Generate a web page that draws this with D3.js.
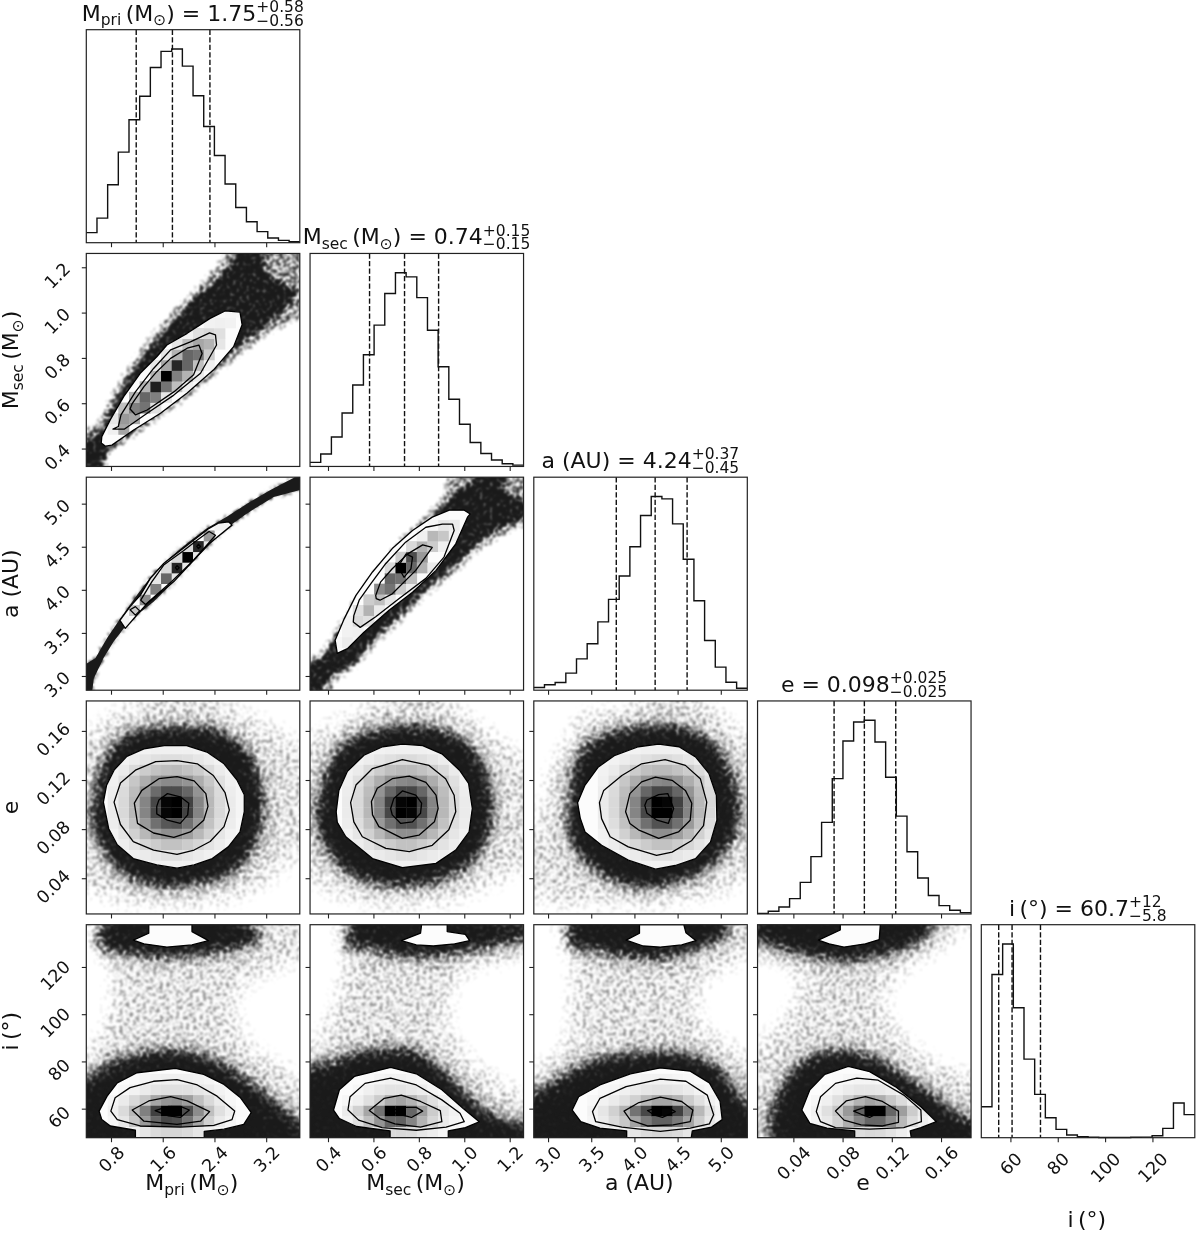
<!DOCTYPE html>
<html>
<head>
<meta charset="utf-8">
<script src="https://cdn.jsdelivr.net/npm/d3@7"></script>
<style>
    html, body { margin: 0; padding: 0; background: #fff; }
    svg { display: block; filter: blur(0.35px); }
    text { font-family: "DejaVu Sans", sans-serif; fill: #111; }
</style>
</head>
<body>
<div id="chart"></div>
<script>
//PARAMETER RANGES, TICKS AND QUANTILES
const extents = [[0.418, 3.72], [0.321, 1.261], [2.835, 5.307], [0.0109, 0.1844], [47.7, 137.9]];
const tickValues = [
    [0.8, 1.6, 2.4, 3.2],
    [0.4, 0.6, 0.8, 1.0, 1.2],
    [3.0, 3.5, 4.0, 4.5, 5.0],
    [0.04, 0.08, 0.12, 0.16],
    [60, 80, 100, 120],
];
const tickLabels = [
    ["0.8", "1.6", "2.4", "3.2"],
    ["0.4", "0.6", "0.8", "1.0", "1.2"],
    ["3.0", "3.5", "4.0", "4.5", "5.0"],
    ["0.04", "0.08", "0.12", "0.16"],
    ["60", "80", "100", "120"],
];
const quantiles = [
    [1.19, 1.75, 2.33],
    [0.583, 0.737, 0.887],
    [3.79, 4.24, 4.61],
    [0.0731, 0.0977, 0.1232],
    [55.05, 60.7, 72.7],
];

//AXIS LABELS: [text, isSubscript]
const axisNames = [
    [["M", 0], ["pri", 1], ["\u2009(M", 0], ["\u2299", 1], [")", 0]],
    [["M", 0], ["sec", 1], ["\u2009(M", 0], ["\u2299", 1], [")", 0]],
    [["a (AU)", 0]],
    [["e", 0]],
    [["i\u2009(\u00b0)", 0]],
];
const titleValues = ["1.75", "0.74", "4.24", "0.098", "60.7"];
const titlePlus = ["+0.58", "+0.15", "+0.37", "+0.025", "+12"];
const titleMinus = ["\u22120.56", "\u22120.15", "\u22120.45", "\u22120.025", "\u22125.8"];

//1D HISTOGRAMS, PERCENT OF THE PEAK BIN
const histPri = [5.2, 12.7, 29.9, 46.8, 63.5, 75.6, 90.5, 98.8, 100, 91.2, 75.9, 60, 45, 30.3, 18.2, 10.8, 5.7, 2.4, 1.2, 0.5];
const histSec = [2.1, 6.4, 15.2, 27.6, 42.1, 57.7, 73, 89.3, 100, 97.9, 87.2, 70.3, 51.5, 34.7, 21.8, 12.4, 6.7, 3.3, 1.4, 0.7];
const histA = [1.4, 2.8, 4, 8.8, 16.2, 24, 35.3, 46.9, 59, 74.1, 90.2, 100, 98.8, 85.9, 67.6, 46.2, 25.7, 11.9, 4.1, 1];
const histE = [0.3, 1.4, 3.6, 7.9, 16.3, 29.6, 47.3, 69.9, 89.3, 99.1, 100, 88.8, 70.6, 50.5, 32.1, 18.6, 9.5, 4.3, 1.9, 0.7];
const histI = [16, 84.3, 100, 67.1, 40.6, 22.4, 10.3, 4.3, 1.4, 0.5, 0.2, 0.1, 0.1, 0.1, 0.2, 0.3, 1, 4.8, 17.9, 11.9];

//2D PANELS: everything below is [binX, binY] in the 20x20 histogram grid
//cell rows are [binY, firstBinX, darkness...] with darkness in percent

// M_sec vs M_pri
const denseSecPri = [[[0,0],[0,.8],[1.3,3.4],[2.25,5.6],[3.65,8],[5.4,10.6],[7.25,12.65],[9.1,14.85],[11,16.7],[12.6,18.1],[13.8,19.4],[15.1,20],[16.2,20],[16.9,18.4],[18.5,17.2],[19.75,16.9],[19.6,15.6],[17.25,13.4],[14.75,11.6],[12.25,9.5],[9.45,7],[6.6,4.85],[4.1,3],[2.1,1.55],[.85,0]]];
const sparseSecPri = [[0,1.5],[1.2,4.5],[3,8],[5.2,11.4],[7,13.5],[9,15.6],[11,17.6],[12.6,19.4],[13.3,20],[20,20],[20,15],[17.5,12.6],[15,10.8],[12.5,8.8],[9.5,6.3],[6.6,4.2],[4,2.4],[2,1],[1.2,0],[0,0]];
const outerSecPri = [[[1.4,2.2],[1.8,1.9],[2.4,2],[4.4,3.4],[6.95,5],[9.45,6.9],[11.9,9.05],[13.8,11.25],[14.6,13.3],[14.4,14.5],[13,14.6],[11.6,13.9],[9.45,12.5],[7.55,11.4],[6.6,10.3],[5.05,8.75],[3.5,6.55],[2.25,4.4],[1.45,2.8]]];
const linesSecPri = [
    [[2.5,3.5],[3.55,3.5],[5.7,5],[8.2,6.7],[10.7,8.75],[12.2,11.4],[12.1,12.35],[11.55,12.55],[9.75,11.7],[7.9,10.95],[6.3,9.2],[4.6,7],[3.25,4.85],[3,3.75]],
    [[4.1,5.4],[4.6,4.85],[5.7,5.3],[8.2,7],[10.05,8.6],[10.85,10.6],[10.55,11.4],[9.45,11.1],[7.9,10.15],[6.6,8.9],[5.4,7.5],[4.3,5.9]],
];
const cellsSecPri = [[3,2,6,35],[4,2,10,40,35],[5,3,25,50,55,12],[6,4,30,60,50,10],[7,5,30,88,55,25,6],[8,6,30,100,50,30,8],[9,6,10,35,85,60,25,6],[10,7,10,30,60,55,20],[11,8,10,25,35,30,10],[12,9,5,12,15,12],[13,11,5,6,5],[14,12,3,4,3]];

// a vs M_pri
const denseAPri = [[[0,.65],[.85,3],[1.95,4.9],[3.2,6.75],[4.75,8.95],[6.15,10.8],[7.55,12.2],[9.45,13.8],[11.3,15.2],[13.2,16.3],[15.05,17.5],[17.25,18.8],[19.45,19.95],[20,20],[20,19.6],[17.55,18.15],[15.05,16.6],[13.5,15.5],[11.95,14.1],[10.05,12.2],[8.2,10.2],[6.3,8.3],[4.75,7.05],[3.5,5.8],[2.55,4.55],[1.6,3],[.7,1.1],[.2,0],[0,0]]];
const sparseAPri = [];
const outerAPri = [[[3.15,6.55],[3.65,5.8],[4.6,6.9],[5.7,8.15],[8.2,10.2],[10.05,12.2],[11.5,13.75],[13.65,15.5],[13.35,15.8],[12.4,15.7],[11.5,15.2],[9.45,13.6],[7.25,11.9],[6,10.5],[5.05,8.9],[4.1,7.85]]];
const linesAPri = [
    [[5.1,8.45],[5.55,8.05],[8,10.2],[10.05,12.2],[12.1,14.55],[11.5,14.9],[10.4,14.1],[9.1,13.1],[7.25,11.75],[6.15,10.2]],
    [[4.1,7.55],[4.6,7.85],[5,7.45],[4.6,7.05]],
    [[8.35,11.5],[8.5,11.7],[8.7,11.5],[8.5,11.3]],
    [[10.35,13.5],[10.5,13.7],[10.7,13.5],[10.5,13.3]],
];
const cellsAPri = [[6,3,5],[7,4,22],[8,5,45],[9,5,8,50],[10,6,10,60,10],[11,7,15,85,10],[12,8,15,100,10],[13,9,15,85,10],[14,11,40],[15,12,5,5]];

// a vs M_sec
const denseASec = [[[0,1.7],[1,3],[2.1,4.55],[3.65,7],[5.55,9.85],[7.1,12],[8.65,13.6],[10.55,15.3],[12.4,17.35],[13.65,18.9],[15.2,19.7],[18,20],[18.35,18.75],[19.6,18],[20,17.35],[18,15.15],[15.85,13.9],[13.35,11.4],[11.15,9.7],[9,7.5],[6.45,5.15],[4.3,2.65],[2.25,1.4],[1.3,.15],[0,0]]];
const sparseASec = [[0,2],[1,3.6],[3.6,7.8],[5.6,10.6],[8.5,14.4],[10.5,16.2],[12.4,18.2],[13.5,20],[20,20],[20,16.5],[18,14.4],[15.8,13],[13.3,10.6],[11,8.9],[9,6.8],[6.4,4.4],[4.3,2],[2.4,.8],[1.3,0],[0,0]];
const outerASec = [[[2.35,4.7],[2.55,3.45],[3.5,3.9],[5.05,5.45],[7.4,7.5],[9.6,9.2],[11.8,11.25],[13.65,13.75],[14.75,16.25],[15,16.55],[14.45,16.9],[13.05,16.9],[11.45,16.25],[9.6,15],[7.7,13.3],[5.85,11.1],[4.3,8.9],[3.2,6.7]]];
const linesASec = [
    [[4.05,6.4],[4.7,5.9],[6.15,6.9],[8.35,8.6],[10.85,10.5],[12.55,12.5],[13.5,15],[13.35,15.6],[12.4,15.6],[10.85,15.3],[8.95,13.9],[7.1,11.9],[5.7,10],[4.6,8.45],[4.1,7]],
    [[6.2,8.6],[6.55,8.45],[7.7,9.05],[9.9,11.25],[11.45,13.4],[10.55,13.65],[9.15,12.8],[7.7,11.4],[6.6,10.15],[6.15,8.9]],
    [[8.2,11.7],[8.8,10.6],[9.45,11.4],[9.6,12.5],[9,12.8],[8.5,12]],
];
const cellsASec = [[4,2,3,8,4],[5,3,5,6],[6,3,5,15,12],[7,4,12,30,8],[8,5,20,25,10],[9,6,45,55,20,8],[10,7,60,55,25],[11,7,15,100,60,30,8],[12,8,20,70,40],[13,9,15,30,20,6],[14,10,6,28,22,6],[15,11,4,10,8],[16,12,2]];

// e vs M_pri
const denseEPri = [[[.4,10.2],[1,13],[1.9,15.2],[3.2,16.8],[5.7,17.6],[8.8,17.7],[12,17.6],[14.1,16.5],[15.7,14.9],[16.5,12.4],[16.8,9.9],[16.3,7.1],[15.4,5.2],[13.2,3.3],[10,2.6],[6.9,2.4],[4.1,3.2],[2.25,4.6],[1.15,6.5],[.4,8]]];
const sparseEPri = [[0,11],[0,15],[1.5,19],[4,19.8],[9,20],[14,19.7],[18,18],[20,14],[20,8],[18.5,3.5],[15,1],[9,.3],[3,.5],[0,3]];
const outerEPri = [[[1.6,10.5],[1.9,12.1],[2.6,13.5],[3.8,14.8],[5.4,15.5],[7.3,15.8],[9.4,15.8],[11.3,15.2],[12.9,14.1],[14.1,12.6],[14.8,11.2],[14.8,9.6],[14.4,7.7],[13.3,6.3],[11.8,5.2],[10.1,4.6],[8.5,4.3],[6.6,4.6],[4.4,5.2],[2.9,6.5],[2.1,8]]];
const linesEPri = [
    [[2.6,10.5],[3.2,12.3],[4.6,13.5],[6.5,14.3],[8.5,14.4],[10.4,14.1],[11.9,13],[13,11.4],[13.4,9.75],[12.9,8.2],[11.6,6.8],[10.1,6],[8.5,5.6],[6.3,6],[4.4,6.8],[3.2,8.4]],
    [[4.5,10.4],[5.2,11.6],[6.8,12.7],[8.5,12.9],[10.1,12.5],[11.2,11.3],[11.4,10.1],[11,8.8],[9.75,7.7],[8.2,7.2],[6.3,7.6],[4.8,8.5]],
    [[6.6,10.1],[6.8,10.7],[7.6,11.3],[8.8,11],[9.6,10.4],[9.5,9.3],[8.8,8.5],[7.6,8.8],[6.6,9.4]],
];
const cellsEPri = [
    [15,2,2,3,4,5,6,6,6,6,5,4,3,2,1],
    [14,2,3,5,7,10,12,13,13,12,10,7,5,3,2],
    [13,2,5,8,14,20,24,26,27,24,20,14,8,5,3],
    [12,2,6,12,22,32,42,46,46,42,32,22,12,6,3],
    [11,2,7,14,26,42,58,70,70,60,42,26,14,7,4],
    [10,2,8,15,28,48,72,98,100,74,48,28,15,8,4],
    [9,2,8,15,28,48,72,98,100,74,48,28,15,8,4],
    [8,2,7,13,24,40,56,66,68,56,40,24,13,7,3],
    [7,2,5,10,18,28,38,44,44,38,28,18,10,5,3],
    [6,2,4,7,11,16,20,24,24,20,16,11,7,4,2],
    [5,2,2,4,6,8,10,12,12,10,8,6,4,2,1],
    [4,2,1,2,3,4,5,5,5,5,4,3,2,1,0],
];

// e vs M_sec
const denseESec = [[[.5,10.2],[1.45,13.65],[2.7,15.85],[4.9,17.1],[8.65,17.9],[12.1,17.55],[14.6,16.5],[16.15,14.6],[17.1,11.8],[17.25,9],[16.6,6.45],[14.9,4.3],[12.1,2.9],[8.35,2.4],[4.6,3],[2.4,4.6],[1,6.8],[.4,8.65]]];
const sparseESec = [[0,5],[0,15],[2,18.5],[5,19.7],[10,20],[15,19],[18.5,16.5],[20,13],[20,6],[18,2.5],[13,.5],[6,.2],[1.5,1.5]];
const outerESec = [[[2.45,9.6],[2.7,11.6],[3.5,13.4],[5.05,14.9],[6.8,15.7],[8.65,15.95],[10.55,15.8],[12.4,15],[14,13.5],[14.85,12.25],[15.2,9.9],[14.9,7.7],[13.65,6],[11.8,4.75],[8.65,4.35],[5.85,5.2],[3.35,7.25],[2.55,8.6]]];
const linesESec = [
    [[3.8,10.45],[4.3,12.1],[5.85,13.65],[8.65,14.5],[11.15,13.95],[12.7,12.7],[13.5,11.15],[13.65,9.6],[13,7.9],[11.45,6.45],[9.3,5.85],[7.1,6.15],[4.9,7.25],[4.1,8.65]],
    [[5.75,10.55],[6.3,11.8],[7.7,12.7],[9.3,12.95],[10.85,12.35],[11.8,11.15],[12,9.9],[11.65,8.65],[10.2,7.4],[8.65,7.1],[6.45,8.2],[5.85,9.3]],
    [[7.55,9.9],[7.85,10.85],[8.65,11.55],[9.9,11.15],[10.45,10.4],[10.35,9.45],[9.6,8.65],[8.5,8.5],[7.7,9.3]],
];
const cellsESec = [
    [15,3,2,3,4,5,6,6,6,6,5,4,3,2],
    [14,3,3,5,7,10,12,14,14,12,10,7,5,3],
    [13,3,5,8,14,20,25,27,27,24,20,14,8,5],
    [12,3,6,12,22,32,42,46,48,42,32,22,12,6],
    [11,3,7,14,26,42,60,72,72,60,42,26,14,7],
    [10,3,8,15,28,48,74,98,100,74,48,28,15,8],
    [9,3,8,15,28,48,72,100,98,72,48,28,15,8],
    [8,3,7,13,24,40,56,68,68,56,40,24,13,7],
    [7,3,5,10,18,28,38,44,44,38,28,18,10,5],
    [6,3,4,7,11,16,20,24,24,20,16,11,7,4],
    [5,3,2,4,6,8,10,12,12,10,8,6,4,2],
    [4,3,1,2,3,4,5,5,5,5,4,3,2,1],
];

// e vs a
const denseEA = [[[3.25,10.55],[3.55,14],[4.5,15.85],[6.7,17.1],[9.8,17.7],[12.95,17.9],[15.75,17.1],[17.6,15.5],[18.9,12.7],[19.5,9.9],[18.9,6.8],[17,4.6],[14.2,3],[10.75,2.25],[7.3,2.9],[4.8,4.6],[3.25,6.8],[2.95,8.65]]];
const sparseEA = [[0,3],[.3,10],[1,14],[2.5,15.8],[3.5,19],[8,19.9],[14,20],[19,18],[20,15],[20,5],[18,1.5],[12,.3],[5,.2],[1,.5]];
const outerEA = [[[4.1,10.45],[4.8,12.1],[6.05,13.8],[7.6,14.9],[9.8,15.7],[11.7,15.95],[13.6,15.7],[15.15,14.75],[16.4,13.2],[17.1,11.15],[17.15,8.8],[16.55,6.75],[15.15,5.2],[13.25,4.55],[11.4,4.2],[8.85,5.05],[6.35,6.45],[4.8,7.7],[4.35,9]]];
const linesEA = [
    [[6.15,10.45],[6.55,11.6],[8.25,13],[10.1,14.1],[12.3,14.5],[14.2,13.95],[15.6,12.7],[16.2,10.5],[15.9,8.3],[14.8,6.9],[12.95,5.8],[11.5,5.5],[8.85,6.3],[7.15,7.25],[6.35,8.95]],
    [[8.6,9.6],[9,11.3],[10.1,12.4],[11.4,12.85],[12.95,12.55],[14.2,11.6],[14.8,10.4],[14.65,8.8],[13.55,7.7],[11.7,7.1],[9.8,7.9],[9,8.5]],
    [[10.4,10.2],[10.6,10.7],[11.7,11.2],[12.55,11.3],[13.1,9.9],[12.6,8.5],[11.55,8.8],[10.6,9.45]],
];
const cellsEA = [
    [15,6,2,3,4,5,6,6,6,6,5,4,3,2],
    [14,6,3,5,7,10,12,14,14,12,10,7,5,3],
    [13,6,5,8,14,20,25,27,27,24,20,14,8,5],
    [12,6,6,12,22,32,42,46,48,42,32,22,12,6],
    [11,6,7,14,26,42,60,72,72,60,42,26,14,7],
    [10,6,8,15,28,48,74,100,98,74,48,28,15,8],
    [9,6,8,15,28,48,72,100,100,72,48,28,15,8],
    [8,6,7,13,24,40,56,68,68,56,40,24,13,7],
    [7,6,5,10,18,28,38,44,44,38,28,18,10,5],
    [6,6,4,7,11,16,20,24,24,20,16,11,7,4],
    [5,6,2,4,6,8,10,12,12,10,8,6,4,2],
    [4,6,1,2,3,4,5,5,5,5,4,3,2,1],
];

// i vs M_pri
const denseIPri = [
    [[.7,19.7],[5.7,20],[11.9,20],[16.3,19.5],[17.25,18.9],[15.7,17.95],[13.2,17.5],[10.05,17],[6.3,16.85],[2.55,17.35],[1.65,17],[1.3,17.65],[.85,18.3]],
    [[0,0],[0,3.6],[1,6.4],[2.55,7.35],[5.05,8.1],[8.5,8.45],[11.3,7.8],[13.5,6.7],[15.7,5.15],[17.9,3.3],[19.75,1.7],[20,.8],[19.4,0]],
];
const sparseIPri = [[0,0],[0,5],[1,10],[2,13],[1.5,16],[1,19],[3,20],[20,20],[20,17],[17,15],[14,13],[15,10],[17,8],[20,5],[20,0]];
const outerIPri = [
    [[1.2,2.5],[1.95,3.9],[2.9,5.15],[4.75,6.1],[8.35,6.5],[11,5.95],[12.9,5],[14.45,3.75],[15.45,2.35],[14.75,1.25],[12.9,.8],[11.05,.6],[11.05,0],[4.6,0],[4.6,.7],[2.25,1.1],[1.45,1.7]],
    [[4.4,18.55],[5.85,19.2],[5.85,20],[9.9,20],[9.9,19.35],[11.45,18.5],[9.9,18.1],[7.55,17.9],[5.4,18.2]],
];
const linesIPri = [
    [[2.3,2.5],[2.7,3.75],[4.1,4.7],[6.3,5.3],[8.5,5.45],[10.4,4.95],[12.25,3.9],[13.9,2.5],[13.65,1.7],[11.95,1.15],[8.8,1],[5.05,1.1],[2.9,1.7]],
    [[4.3,2.6],[5.85,3.45],[7.9,3.85],[9.45,3.45],[11.55,2.45],[10.7,1.55],[8.5,1.25],[5.4,1.55]],
    [[6.45,2.55],[7.7,2.95],[8.8,2.95],[9.65,2.6],[8.8,1.9],[7.7,2.05]],
];
const cellsIPri = [[5,4,2,4,5,6,6,6,5,4,2],[4,3,3,5,8,11,12,12,12,10,8,5,3],[3,2,4,8,15,22,35,42,44,38,25,15,8,3],[2,2,6,14,28,50,75,100,100,70,45,25,12,6,2],[1,2,4,10,22,40,60,72,70,55,35,18,8,4],[0,3,3,6,10,14,16,16,14,10,6,3]];

// i vs M_sec
const denseISec = [
    [[3.55,19.85],[4.75,20],[20,19.85],[20,18.6],[18.35,18.1],[15.55,17.5],[11.55,16.85],[8.35,16.85],[5.55,17.8],[3.55,17.35],[2.95,16.85],[3.15,18.6]],
    [[0,0],[0,5.4],[1.15,7.3],[2.35,7.15],[3.95,8.1],[7.55,8.55],[9.95,8.4],[11.55,7.3],[13.55,5.4],[15.95,2.9],[18.35,1.65],[20,1],[20,0]],
];
const sparseISec = [[0,0],[0,4],[1.2,11],[2.3,14],[2.8,17],[3,20],[20,20],[20,17],[15,15.5],[13.5,13.5],[13.5,10],[16,7],[20,3],[20,0]];
const outerISec = [
    [[2.2,2.6],[2.75,4.5],[4.15,5.75],[7.55,6.6],[9.95,6],[12.35,4.5],[14.35,2.75],[15.85,1.5],[14.55,.95],[12.95,.65],[12.95,0],[7.5,0],[7.5,.65],[4.35,1.05],[2.75,1.8]],
    [[8.55,18.5],[10.35,19.2],[10.45,20],[12.85,20],[12.85,19.35],[14.55,19.1],[14.95,18.5],[13.55,18.2],[11.55,18],[9.95,18.1]],
];
const linesISec = [
    [[3.55,2.6],[3.75,3.85],[5.15,5.1],[7.55,5.6],[9.95,4.95],[12.35,3.55],[14.05,2.3],[14.45,1.5],[12.75,1],[9.95,.7],[6.75,.95],[4.55,1.65]],
    [[5.55,2.55],[6.95,3.7],[8.55,4],[10.35,3.4],[12.2,2.55],[12.35,1.5],[10.35,1],[7.95,1.3],[6.55,1.8]],
    [[7.55,2.5],[8.55,2.85],[9.95,2.85],[10.55,2.5],[9.5,1.9],[8.35,2.2]],
];
const cellsISec = [[5,5,2,4,5,5,4,3],[4,4,3,6,9,11,11,9,7,4,2],[3,3,3,6,12,20,32,36,30,20,12,6,3],[2,3,8,18,35,55,100,100,60,38,20,10,5,2],[1,3,5,12,25,42,60,62,48,30,16,8,4,2],[0,4,3,6,10,14,15,14,10,7,4,2]];

// i vs a
const denseIA = [
    [[2.6,19.4],[3,19.85],[4.6,20],[17.05,20],[18.65,19.5],[18.25,18.6],[15.45,17.65],[11.45,16.55],[7.45,17],[5,17.8],[4.2,16.7],[3.4,17.65]],
    [[0,0],[0,2.6],[1.8,5.4],[3.4,6.35],[5.8,7.6],[9.85,8.1],[13.85,8.1],[16.65,7.3],[18.25,5.75],[19.45,3.55],[20,2],[20,0]],
];
const sparseIA = [[0,0],[0,5],[2.8,9],[3,14],[3.2,20],[20,20],[20,17.5],[18,15.5],[16,14],[15.5,12],[17,10],[20,7],[20,0]];
const outerIA = [
    [[3.6,2.6],[4.2,3.85],[6.2,4.95],[9.05,6],[11.85,6.55],[14.65,6.25],[16.45,5.15],[17.45,3.4],[17.65,1.7],[16.65,1],[14.85,.65],[14.75,0],[8.7,0],[8.7,.65],[6.2,.9],[4.4,1.5]],
    [[8.65,18.55],[9.9,19.2],[9.9,20],[14.05,20],[14.25,19.25],[15.2,18.5],[13.85,18.1],[11.85,17.9],[10.25,18]],
];
const linesIA = [
    [[5.5,2.45],[6.2,3.7],[8.65,4.8],[11.85,5.5],[14.25,5.3],[16.25,4],[16.85,2.15],[16.45,1.3],[14.65,.9],[11.85,.6],[8.25,1],[5.8,1.5]],
    [[8.45,2.5],[9.85,3.3],[11.85,3.8],[13.85,3.4],[14.9,2.6],[14.65,1.5],[13.05,1.2],[10.65,1.1],[9.05,1.65]],
    [[10.65,2.55],[11.65,2.8],[12.65,2.8],[13.25,2.45],[12.05,1.9],[11.25,2.15]],
];
const cellsIA = [[5,7,2,3,4,5,5,5,4,3,2],[4,6,3,4,6,8,10,11,11,10,8,5,3],[3,5,3,5,8,12,18,28,35,35,30,20,12,6,3],[2,5,5,10,18,30,55,72,100,98,75,50,28,12,5],[1,5,4,8,14,22,36,52,62,62,52,36,20,9,4],[0,6,3,5,8,10,14,16,16,14,10,6,3]];

// i vs e
const denseIE = [
    [[0,19.7],[5.7,20],[16.5,20],[16.7,19.2],[14.5,17.8],[11.7,17],[8.5,16.4],[5.3,16.85],[2.1,17.65],[.15,18.1]],
    [[1.1,0],[.9,1.65],[1.7,4.15],[3.3,6.65],[5.3,8.1],[8.5,8.4],[11.3,7.6],[13.7,6.05],[16.5,4.15],[19.3,1.95],[20,1],[20,0]],
];
const sparseIE = [[0,0],[0,8],[1,10],[3,13],[4,15],[2,16],[0,17],[0,20],[20,20],[18,17.5],[14,15.5],[12,13],[13,11],[16,8],[20,5],[20,0]];
const outerIE = [
    [[4.15,2.6],[4.9,4.5],[6.3,5.95],[8.5,6.7],[10.5,6.2],[12.9,4.8],[15.3,2.9],[16.75,1.5],[15.3,.95],[14.3,.65],[14.4,0],[9.1,0],[9.1,.65],[6.5,.9],[4.9,1.35]],
    [[5.7,18.55],[7.75,19.5],[7.75,20],[11.5,20],[11.4,18.6],[10.1,18.2],[8.1,17.9],[6.7,18.2]],
];
const linesIE = [
    [[5.5,2.45],[5.9,3.85],[7.3,5.1],[9.3,5.6],[11.3,5.4],[13.7,4],[15.3,2.6],[15.35,1.5],[13.7,.95],[10.5,.8],[7.3,.95],[5.9,1.5]],
    [[7.3,2.5],[8.3,3.45],[10.1,3.85],[11.7,3.4],[13.2,2.5],[13.2,1.45],[11.7,1.1],[9.7,1.2],[8.1,1.65]],
    [[9,2.5],[9.9,2.8],[11.5,2.8],[11.5,2.45],[10.5,1.9],[9.7,2.2]],
];
const cellsIE = [[5,7,2,3,4,4,3,2],[4,6,3,5,8,10,10,9,7,4,2],[3,5,3,6,12,20,30,36,32,22,14,7,3],[2,5,5,12,22,40,62,100,100,60,38,20,8,3],[1,5,4,9,18,32,48,60,60,45,28,14,6,2],[0,6,4,6,10,13,15,14,11,7,4,2]];

const histograms = [histPri, histSec, histA, histE, histI];
const panels2d = [
    { row: 1, col: 0, soft: false, dense: denseSecPri, sparse: sparseSecPri, outer: outerSecPri, lines: linesSecPri, cells: cellsSecPri },
    { row: 2, col: 0, soft: false, dense: denseAPri, sparse: sparseAPri, outer: outerAPri, lines: linesAPri, cells: cellsAPri },
    { row: 2, col: 1, soft: false, dense: denseASec, sparse: sparseASec, outer: outerASec, lines: linesASec, cells: cellsASec },
    { row: 3, col: 0, soft: true, dense: denseEPri, sparse: sparseEPri, outer: outerEPri, lines: linesEPri, cells: cellsEPri },
    { row: 3, col: 1, soft: true, dense: denseESec, sparse: sparseESec, outer: outerESec, lines: linesESec, cells: cellsESec },
    { row: 3, col: 2, soft: true, dense: denseEA, sparse: sparseEA, outer: outerEA, lines: linesEA, cells: cellsEA },
    { row: 4, col: 0, soft: true, dense: denseIPri, sparse: sparseIPri, outer: outerIPri, lines: linesIPri, cells: cellsIPri },
    { row: 4, col: 1, soft: true, dense: denseISec, sparse: sparseISec, outer: outerISec, lines: linesISec, cells: cellsISec },
    { row: 4, col: 2, soft: true, dense: denseIA, sparse: sparseIA, outer: outerIA, lines: linesIA, cells: cellsIA },
    { row: 4, col: 3, soft: true, dense: denseIE, sparse: sparseIE, outer: outerIE, lines: linesIE, cells: cellsIE },
];

//DIMENSIONS
const dimension = {
    width: 1200,
    height: 1233,
    left: 86.3,
    top: 29.7,
    step: 223.75,
    panel: 213,
}
const bins = 20;
const panelX = (c) => dimension.left + dimension.step * c;
const panelY = (r) => dimension.top + dimension.step * r;

const wrapper = d3.select("#chart")
    .append("svg")
    .attr("width", dimension.width)
    .attr("height", dimension.height)

const defs = wrapper.append("defs");

//GRAIN FILTER: turns a soft edge into speckles like the sample cloud
function addGrain(id, blur, seed) {
    const f = defs.append("filter")
        .attr("id", id)
        .attr("filterUnits", "userSpaceOnUse")
        .attr("x", 0).attr("y", 0)
        .attr("width", dimension.width).attr("height", dimension.height)
        .attr("color-interpolation-filters", "sRGB");
    f.append("feGaussianBlur").attr("in", "SourceAlpha").attr("stdDeviation", blur).attr("result", "soft");
    f.append("feTurbulence").attr("type", "fractalNoise").attr("baseFrequency", 0.3)
        .attr("numOctaves", 2).attr("seed", seed).attr("result", "noise");
    f.append("feColorMatrix").attr("in", "noise").attr("type", "matrix")
        .attr("values", "0 0 0 0 0  0 0 0 0 0  0 0 0 0 0  3 0 0 0 -1").attr("result", "grain");
    f.append("feComposite").attr("in", "soft").attr("in2", "grain").attr("operator", "arithmetic")
        .attr("k1", 0).attr("k2", 2.6).attr("k3", 1.6).attr("k4", -1.9).attr("result", "mask");
    f.append("feGaussianBlur").attr("in", "mask").attr("stdDeviation", 0.8).attr("result", "smooth");
    f.append("feFlood").attr("flood-color", "#1a1a1a").attr("result", "ink");
    f.append("feComposite").attr("in", "ink").attr("in2", "smooth").attr("operator", "in");
}
addGrain("grainWide", 12, 4);
addGrain("grainHalo", 18, 12);
addGrain("grainSoft", 8, 7);
addGrain("grainTight", 3, 9);

//HISTOGRAM PANELS
function drawHistogram(i) {
    const x0 = panelX(i), y0 = panelY(i);
    const xScale = d3.scaleLinear().domain(extents[i]).range([x0, x0 + dimension.panel + 0.5]);
    const yScale = d3.scaleLinear().domain([0, 110]).range([y0 + dimension.panel, y0]);
    const edge = d3.scaleLinear().domain([0, bins]).range(extents[i]);
    const points = histograms[i].map((v, b) => [edge(b), v]);
    points.push([edge(bins), histograms[i][bins - 1]]);

    const line = d3.line()
        .x((d) => xScale(d[0]))
        .y((d) => yScale(d[1]))
        .curve(d3.curveStepAfter);

    wrapper.append("path")
        .attr("d", line(points))
        .attr("fill", "none")
        .attr("stroke", "#111")
        .attr("stroke-width", 1.4);

    wrapper.selectAll(null)
        .data(quantiles[i])
        .enter()
        .append("line")
        .attr("x1", (d) => xScale(d)).attr("x2", (d) => xScale(d))
        .attr("y1", y0).attr("y2", y0 + dimension.panel)
        .attr("stroke", "#111")
        .attr("stroke-width", 1.4)
        .attr("stroke-dasharray", "5.2 2.3");

    drawAxes(i, -1, i);
    drawTitle(i);
}

//2D PANELS
function draw2d(p, n) {
    const x0 = panelX(p.col), y0 = panelY(p.row);
    const size = dimension.panel;
    const xBin = d3.scaleLinear().domain([0, bins]).range(extents[p.col]);
    const yBin = d3.scaleLinear().domain([0, bins]).range(extents[p.row]);
    const xScale = d3.scaleLinear().domain(extents[p.col]).range([x0, x0 + size + 0.5]);
    const yScale = d3.scaleLinear().domain(extents[p.row]).range([y0 + size, y0]);
    const px = (b) => xScale(xBin(b));
    const py = (b) => yScale(yBin(b));

    // edge points of the cloud are pushed out so blur does not fade at the frame
    const out = (b) => (b <= 0 ? b - 3 : b >= bins ? b + 3 : b);
    const cloud = d3.line()
        .x((d) => px(out(d[0])))
        .y((d) => py(out(d[1])))
        .curve(d3.curveLinearClosed);
    const contour = d3.line()
        .x((d) => px(d[0]))
        .y((d) => py(d[1]))
        .curve(d3.curveLinearClosed);

    const frameId = "frame" + n;
    const frame = defs.append("clipPath").attr("id", frameId);
    frame.append("rect").attr("x", x0).attr("y", y0).attr("width", size + 0.5).attr("height", size);

    const bounds = wrapper.append("g").attr("clip-path", `url(#${frameId})`);

    //DRAW THE SAMPLE CLOUD
    if (p.sparse.length) {
        bounds.append("path")
            .attr("d", cloud(p.sparse))
            .attr("fill", "#000")
            .attr("fill-opacity", p.soft ? 0.44 : 0.6)
            .attr("opacity", p.soft ? 0.62 : 0.9)
            .attr("filter", `url(#${p.soft ? "grainWide" : "grainTight"})`);
    }
    if (p.soft) {
        bounds.selectAll(null)
            .data(p.dense)
            .enter()
            .append("path")
            .attr("d", (d) => cloud(d))
            .attr("fill", "#000")
            .attr("opacity", 0.9)
            .attr("filter", "url(#grainHalo)");
    }
    bounds.selectAll(null)
        .data(p.dense)
        .enter()
        .append("path")
        .attr("d", (d) => cloud(d))
        .attr("fill", "#000")
        .attr("filter", `url(#${p.soft ? "grainSoft" : "grainTight"})`);
    if (!p.sparse.length) {
        bounds.selectAll(null)
            .data(p.dense)
            .enter()
            .append("path")
            .attr("d", (d) => cloud(d))
            .attr("fill", "#1a1a1a");
    }

    //WHITE AREA INSIDE THE LOWEST CONTOUR
    const insideId = "inside" + n;
    const inside = defs.append("clipPath").attr("id", insideId);
    inside.selectAll("path")
        .data(p.outer)
        .enter()
        .append("path")
        .attr("d", (d) => contour(d));

    bounds.selectAll(null)
        .data(p.outer)
        .enter()
        .append("path")
        .attr("d", (d) => contour(d))
        .attr("fill", "#fcfcfc");

    //DENSITY CELLS
    const myColor = d3.scaleLinear().domain([0, 100]).range(["#ffffff", "#000000"]);
    const cells = [];
    p.cells.forEach((row) => {
        row.slice(2).forEach((v, k) => cells.push({ i: row[1] + k, j: row[0], v: v }));
    });
    bounds.append("g")
        .attr("clip-path", `url(#${insideId})`)
        .selectAll("rect")
        .data(cells)
        .enter()
        .append("rect")
        .attr("x", (d) => px(d.i))
        .attr("y", (d) => py(d.j + 1))
        .attr("width", (d) => px(d.i + 1) - px(d.i) + 0.3)
        .attr("height", (d) => py(d.j) - py(d.j + 1) + 0.3)
        .attr("fill", (d) => myColor(d.v));

    //CONTOUR LINES
    bounds.selectAll(null)
        .data(p.outer.concat(p.lines))
        .enter()
        .append("path")
        .attr("d", (d) => contour(d))
        .attr("fill", "none")
        .attr("stroke", "#000")
        .attr("stroke-width", 1.3)
        .attr("stroke-linejoin", "round");

    drawAxes(p.col, p.row, p.row);
}

//AXES AND FRAME
function drawAxes(col, yParam, row) {
    const x0 = panelX(col), y0 = panelY(row);
    const size = dimension.panel;
    const xScale = d3.scaleLinear().domain(extents[col]).range([x0, x0 + size + 0.5]);
    const labelled = row === 4;

    const bottom = wrapper.append("g")
        .attr("transform", `translate(0,${y0 + size})`)
        .call(d3.axisBottom(xScale)
            .tickValues(tickValues[col])
            .tickSize(4.5)
            .tickFormat((d, k) => (labelled ? tickLabels[col][k] : "")));
    styleAxis(bottom);
    bottom.selectAll("text").each(function () {
        const len = this.getComputedTextLength();
        const box = (len + 13) / Math.SQRT2;
        const gap = col === 4 ? 13.7 : 7;
        d3.select(this)
            .attr("y", 0).attr("dy", 0)
            .attr("text-anchor", "middle")
            .attr("dominant-baseline", "central")
            .attr("transform", `translate(0,${gap + box / 2}) rotate(-45)`);
    });

    if (yParam >= 0) {
        const yScale = d3.scaleLinear().domain(extents[yParam]).range([y0 + size, y0]);
        const left = wrapper.append("g")
            .attr("transform", `translate(${x0},0)`)
            .call(d3.axisLeft(yScale)
                .tickValues(tickValues[yParam])
                .tickSize(4.5)
                .tickFormat((d, k) => (col === 0 ? tickLabels[yParam][k] : "")));
        styleAxis(left);
        left.selectAll("text").each(function () {
            const len = this.getComputedTextLength();
            const box = (len + 13) / Math.SQRT2;
            d3.select(this)
                .attr("x", 0).attr("dy", 0)
                .attr("text-anchor", "middle")
                .attr("dominant-baseline", "central")
                .attr("transform", `translate(${-(14.6 + box / 2)},8) rotate(-45)`);
        });
    }

    wrapper.append("rect")
        .attr("x", x0).attr("y", y0)
        .attr("width", size + 0.5).attr("height", size)
        .attr("fill", "none")
        .attr("stroke", "#222")
        .attr("stroke-width", 1.2);
}

function styleAxis(axis) {
    axis.select(".domain").remove();
    axis.selectAll("line").attr("stroke", "#222").attr("stroke-width", 1.1);
    axis.selectAll("text").style("font-size", "17.5px").attr("fill", "#111");
}

//MIXED TEXT WITH SUBSCRIPTS
function addParts(text, parts) {
    parts.forEach((part, k) => {
        const wasSub = k > 0 && parts[k - 1][1];
        text.append("tspan")
            .text(part[0])
            .style("font-size", part[1] ? "15.5px" : "22px")
            .attr("dy", part[1] ? 4.5 : wasSub ? -4.5 : 0);
    });
}

function drawTitle(i) {
    const center = panelX(i) + dimension.panel / 2;
    const base = panelY(i) - 9;
    const text = wrapper.append("text").attr("y", base);
    addParts(text, axisNames[i].concat([[" = " + titleValues[i], 0]]));
    const width = text.node().getComputedTextLength();
    const sup = wrapper.append("text").attr("y", base - 8.8).style("font-size", "15.5px").text(titlePlus[i]);
    const sub = wrapper.append("text").attr("y", base + 5).style("font-size", "15.5px").text(titleMinus[i]);
    const stack = Math.max(sup.node().getComputedTextLength(), sub.node().getComputedTextLength());
    const start = center - (width + stack) / 2;
    text.attr("x", start);
    sup.attr("x", start + width);
    sub.attr("x", start + width);
}

function drawLabels() {
    axisNames.forEach((parts, i) => {
        const bottom = wrapper.append("text")
            .attr("text-anchor", "middle")
            .attr("x", panelX(i) + dimension.panel / 2 - 1)
            .attr("y", i === 4 ? 1227 : 1190);
        addParts(bottom, parts);
        if (i > 0) {
            const left = wrapper.append("text")
                .attr("text-anchor", "middle")
                .attr("transform", `translate(18,${panelY(i) + dimension.panel / 2}) rotate(-90)`);
            addParts(left, parts);
        }
    });
}

panels2d.forEach(draw2d);
histograms.forEach((h, i) => drawHistogram(i));
drawLabels();
</script>
</body>
</html>
